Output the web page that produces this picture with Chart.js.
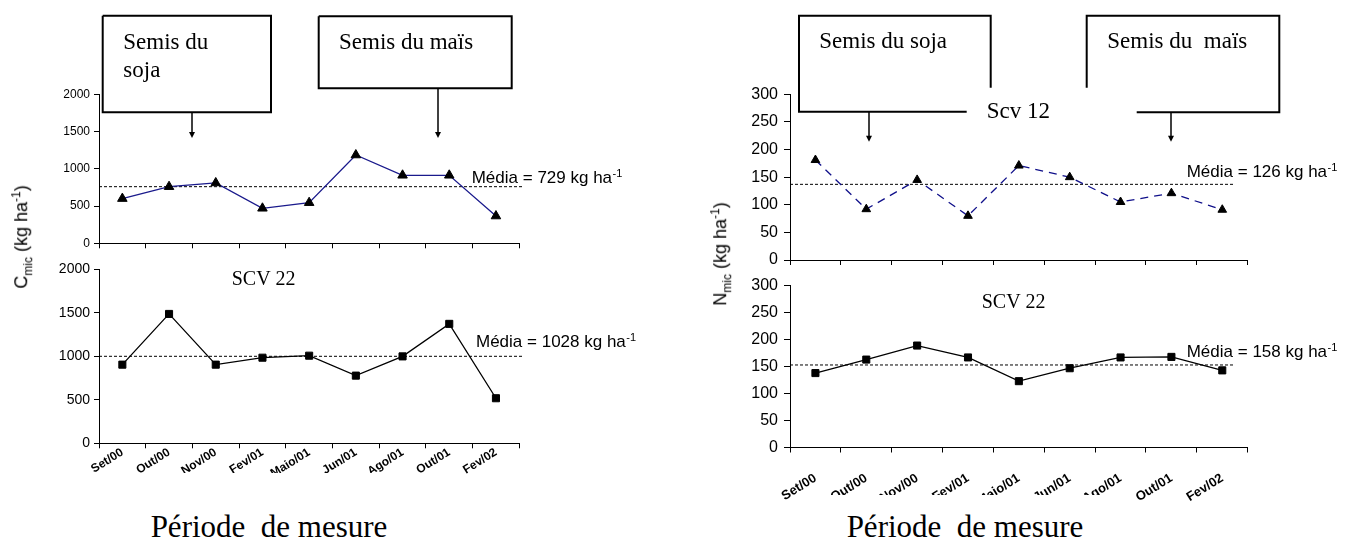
<!DOCTYPE html>
<html>
<head>
<meta charset="utf-8">
<script src="https://cdn.jsdelivr.net/npm/chart.js@4.4.0/dist/chart.umd.min.js"></script>
<style>
body { margin: 0; background: #fff; width: 1358px; height: 538px; position: relative; overflow: hidden; font-family: 'Liberation Sans', Arial, sans-serif; }
canvas { position: absolute; }
.ttl { position: absolute; background: #fff; box-sizing: border-box; font-family: 'Liberation Serif', 'Times New Roman', serif; font-size: 31px; line-height: 31px; text-align: center; white-space: nowrap; }
.ylab { position: absolute; font-size: 18px; white-space: nowrap; transform: translate(-50%, -50%) rotate(-90deg); }
.ylab sub, .ylab sup { font-size: 12px; }
</style>
</head>
<body>
<canvas id="cTop" width="680" height="258" style="left:0;top:0"></canvas>
<canvas id="cBot" width="680" height="224" style="left:0;top:256px"></canvas>
<canvas id="nTop" width="678" height="270" style="left:680px;top:0"></canvas>
<canvas id="nBot" width="678" height="240" style="left:680px;top:272px"></canvas>

<div class="ylab" style="left:22px;top:237px">C<sub>mic</sub> (kg ha<sup>-1</sup>)</div>
<div class="ylab" style="left:721px;top:254px">N<sub>mic</sub> (kg ha<sup>-1</sup>)</div>
<div class="ttl" style="left:138px;width:262px;top:473px;height:65px;padding-top:38px">Période&nbsp; de mesure</div>
<div class="ttl" style="left:815px;width:300px;top:495px;height:43px;padding-top:16px">Période&nbsp; de mesure</div>

<script>
// months on the x axis
const months = ['Set/00', 'Out/00', 'Nov/00', 'Fev/01', 'Maio/01', 'Jun/01', 'Ago/01', 'Out/01', 'Fev/02'];

// C mic (kg/ha)
const cmicScv12 = [600, 760, 810, 470, 545, 1185, 913, 913, 366];
const cmicScv22 = [904, 1487, 904, 984, 1007, 778, 999, 1373, 518];
// N mic (kg/ha)
const nmicScv12 = [181, 92, 145, 80, 171, 150, 105, 121, 91];
const nmicScv22 = [138, 163, 189, 167, 123, 147, 167, 168, 143];

// dashed mean lines (where they are drawn) and their printed labels
const cmicMeanLines = [760, 1000];
const cmicMeanLabels = ['Média = 729 kg ha', 'Média = 1028 kg ha'];
const nmicMeanLines = [137, 153];
const nmicMeanLabels = ['Média = 126 kg ha', 'Média = 158 kg ha'];

// y ticks
const cmicTicks = { max: 2000, step: 500 };
const nmicTicks = { max: 300, step: 50 };

const SANS = '"Liberation Sans", Arial, sans-serif';
const SERIF = '"Liberation Serif", "Times New Roman", serif';

const decor = {
  id: 'decor',
  beforeDatasetsDraw(chart, args, o) {
    const { ctx, chartArea: a, scales: { y } } = chart;
    const my = y.getPixelForValue(o.mean);
    ctx.save();
    ctx.strokeStyle = '#000';
    ctx.lineWidth = 1;
    ctx.setLineDash([3, 2]);
    ctx.beginPath();
    ctx.moveTo(a.left, my);
    ctx.lineTo(o.meanEnd, my);
    ctx.stroke();
    ctx.restore();
  },
  afterDraw(chart, args, o) {
    const { ctx, scales: { x, y } } = chart;
    const my = y.getPixelForValue(o.mean);
    ctx.save();
    ctx.fillStyle = '#000';
    ctx.strokeStyle = '#000';
    ctx.textAlign = 'left';
    ctx.textBaseline = 'alphabetic';
    ctx.font = '17px ' + SANS;
    const base = my + o.labelDy;
    ctx.fillText(o.label, o.labelX, base);
    const w = ctx.measureText(o.label).width;
    ctx.font = '11px ' + SANS;
    ctx.fillText('-1', o.labelX + w + 0.5, base - 6);

    ctx.font = o.serif + 'px ' + SERIF;
    ctx.textBaseline = 'middle';
    (o.texts || []).forEach(t => ctx.fillText(t[0], t[1], t[2]));

    ctx.lineWidth = 2;
    (o.paths || []).forEach(p => {
      ctx.beginPath();
      p.forEach((pt, i) => i ? ctx.lineTo(pt[0], pt[1]) : ctx.moveTo(pt[0], pt[1]));
      ctx.stroke();
    });

    (o.arrows || []).forEach(ar => {
      const ax = Math.round(x.getPixelForValue(ar[0]));
      ctx.lineWidth = 1.5;
      ctx.beginPath();
      ctx.moveTo(ax, ar[1]);
      ctx.lineTo(ax, ar[2] - 5);
      ctx.stroke();
      ctx.beginPath();
      ctx.moveTo(ax - 3, ar[2] - 6);
      ctx.lineTo(ax + 3, ar[2] - 6);
      ctx.lineTo(ax, ar[2]);
      ctx.closePath();
      ctx.fill();
    });
    ctx.restore();
  }
};

function axes(c) {
  return {
    x: {
      type: 'category',
      offset: true,
      grid: { offset: true, drawOnChartArea: false, drawTicks: true, tickLength: 5, color: '#000' },
      border: { color: '#000', width: 1 },
      ticks: c.xlabels
        ? { autoSkip: false, minRotation: c.xrot, maxRotation: c.xrot, padding: c.xpad, color: '#000', font: { family: SANS, size: c.xfont, weight: 'bold' } }
        : { callback: () => '' },
      afterFit(s) { s.height = c.xh; s.paddingLeft = 0; s.paddingRight = 0; }
    },
    y: {
      min: 0,
      max: c.ticks.max,
      ticks: { stepSize: c.ticks.step, color: '#000', padding: c.ypad, font: { family: SANS, size: c.yfont }, callback: v => String(v) },
      grid: { drawOnChartArea: false, tickLength: c.tl, color: '#000' },
      border: { color: '#000', width: 1 },
      afterFit(s) { s.width = c.yw; s.paddingTop = 0; s.paddingBottom = 0; }
    }
  };
}

function panel(id, values, style, c, deco) {
  new Chart(document.getElementById(id), {
    type: 'line',
    data: {
      labels: months,
      datasets: [{
        data: values,
        borderColor: style.color,
        borderWidth: 1.3,
        borderDash: style.dash || [],
        tension: 0,
        pointStyle: style.point,
        pointRadius: style.r,
        pointBackgroundColor: '#000',
        pointBorderColor: '#000',
        pointBorderWidth: 1
      }]
    },
    options: {
      responsive: false,
      animation: false,
      layout: { padding: c.pad },
      scales: axes(c),
      plugins: { legend: { display: false }, tooltip: { enabled: false }, decor: deco }
    },
    plugins: [decor]
  });
}

// left panel, C mic
panel('cTop', cmicScv12, { color: '#1a1a8c', point: 'triangle', r: 5.5 },
  { pad: { top: 94.3, left: 0, right: 160.7, bottom: 0 }, yw: 99, xh: 14.7, ticks: cmicTicks, yfont: 12, ypad: 4, tl: 5 },
  { mean: cmicMeanLines[0], meanEnd: 524, label: cmicMeanLabels[0], labelX: 471.7, labelDy: -4, serif: 23,
    texts: [['Semis du', 123.3, 42.7], ['soja', 123.3, 71], ['Semis du maïs', 339, 42.7]],
    paths: [[[102.7, 15.7], [271, 15.7], [271, 112.3], [102.7, 112.3], [102.7, 15.7]],
            [[318.7, 16.3], [511.7, 16.3], [511.7, 88.3], [318.7, 88.3], [318.7, 16.3]]],
    arrows: [[1.5, 112.3, 138], [6.75, 88.3, 138]] });

panel('cBot', cmicScv22, { color: '#000', point: 'rect', r: 5 },
  { pad: { top: 13.3, left: 0, right: 160.7, bottom: 0 }, yw: 99, xh: 36.7, ticks: cmicTicks, yfont: 14, ypad: 4, tl: 5,
    xlabels: true, xpad: -3, xfont: 12, xrot: 32 },
  { mean: cmicMeanLines[1], meanEnd: 524, label: cmicMeanLabels[1], labelX: 476, labelDy: -9.3, serif: 20,
    texts: [['SCV 22', 231.7, 24]] });

// right panel, N mic
panel('nTop', nmicScv12, { color: '#10108a', point: 'triangle', r: 5, dash: [8, 6] },
  { pad: { top: 94.3, left: 0, right: 110.3, bottom: 0 }, yw: 110, xh: 10, ticks: nmicTicks, yfont: 16, ypad: 6, tl: 6 },
  { mean: nmicMeanLines[0], meanEnd: 553, label: nmicMeanLabels[0], labelX: 506.7, labelDy: -7, serif: 23,
    texts: [['Semis du soja', 139.3, 42], ['Semis du  maïs', 427.3, 42], ['Scv 12', 306.7, 111.7]],
    paths: [[[310.7, 87.7], [310.7, 15.7], [119, 15.7], [119, 111.7], [286.7, 111.7]],
            [[406.7, 87.7], [406.7, 15.7], [599.3, 15.7], [599.3, 112.3], [456.7, 112.3]]],
    arrows: [[1.06, 111.7, 141.7], [7, 112.3, 141.7]] });

panel('nBot', nmicScv22, { color: '#000', point: 'rect', r: 5 },
  { pad: { top: 13.7, left: 0, right: 110.3, bottom: 0 }, yw: 110, xh: 64.5, ticks: nmicTicks, yfont: 16, ypad: 6, tl: 6,
    xlabels: true, xpad: 18, xfont: 13, xrot: 32 },
  { mean: nmicMeanLines[1], meanEnd: 553, label: nmicMeanLabels[1], labelX: 506.7, labelDy: -7.6, serif: 20,
    texts: [['SCV 22', 301.7, 31]] });
</script>
</body>
</html>
